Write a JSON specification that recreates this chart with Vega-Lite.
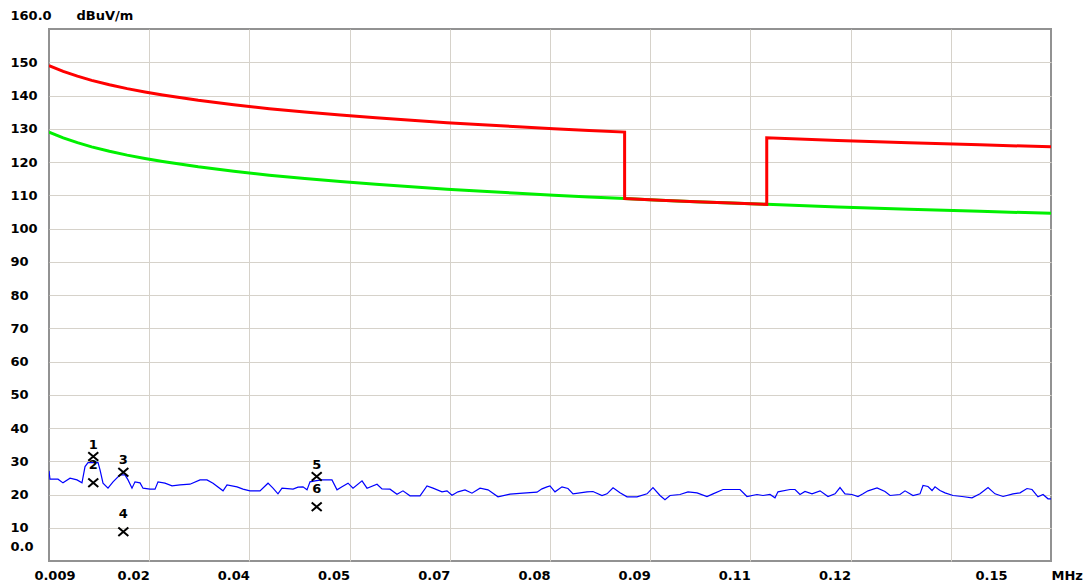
{
  "$schema": "https://vega.github.io/schema/vega-lite/v6.json",
  "width": 1002,
  "height": 532,
  "autosize": {"type": "none"},
  "padding": {"left": 49, "top": 29, "right": 38, "bottom": 26},
  "background": "white",
  "config": {
    "view": {"stroke": "#929292", "strokeWidth": 2},
    "axis": {
      "labelFont": "DejaVu Sans",
      "labelFontWeight": "bold",
      "labelFontSize": 13,
      "labelColor": "#000000",
      "titleFont": "DejaVu Sans",
      "titleFontWeight": "bold",
      "titleFontSize": 13,
      "titleColor": "#000000",
      "gridColor": "#d6d2ca",
      "gridWidth": 1
    }
  },
  "datasets": {
    "limitA": [
      {"i": 0, "f": 0.009, "v": 149.0},
      {"i": 1, "f": 0.011, "v": 147.26},
      {"i": 2, "f": 0.013, "v": 145.81},
      {"i": 3, "f": 0.015, "v": 144.56},
      {"i": 4, "f": 0.0175, "v": 143.22},
      {"i": 5, "f": 0.02, "v": 142.06},
      {"i": 6, "f": 0.0225, "v": 141.04},
      {"i": 7, "f": 0.025, "v": 140.13},
      {"i": 8, "f": 0.03, "v": 138.54},
      {"i": 9, "f": 0.035, "v": 137.2},
      {"i": 10, "f": 0.04, "v": 136.04},
      {"i": 11, "f": 0.045, "v": 135.02},
      {"i": 12, "f": 0.05, "v": 134.11},
      {"i": 13, "f": 0.055, "v": 133.28},
      {"i": 14, "f": 0.06, "v": 132.52},
      {"i": 15, "f": 0.065, "v": 131.83},
      {"i": 16, "f": 0.07, "v": 131.18},
      {"i": 17, "f": 0.075, "v": 130.58},
      {"i": 18, "f": 0.08, "v": 130.02},
      {"i": 19, "f": 0.085, "v": 129.5},
      {"i": 20, "f": 0.09, "v": 129.0},
      {"i": 21, "f": 0.09, "v": 109.0},
      {"i": 22, "f": 0.095, "v": 108.53},
      {"i": 23, "f": 0.1, "v": 108.08},
      {"i": 24, "f": 0.105, "v": 107.66},
      {"i": 25, "f": 0.11, "v": 107.26},
      {"i": 26, "f": 0.11, "v": 127.26},
      {"i": 27, "f": 0.12, "v": 126.5},
      {"i": 28, "f": 0.13, "v": 125.81},
      {"i": 29, "f": 0.14, "v": 125.16},
      {"i": 30, "f": 0.15, "v": 124.56}
    ],
    "limitB": [
      {"f": 0.009, "v": 129.0},
      {"f": 0.011, "v": 127.26},
      {"f": 0.013, "v": 125.81},
      {"f": 0.015, "v": 124.56},
      {"f": 0.0175, "v": 123.22},
      {"f": 0.02, "v": 122.06},
      {"f": 0.0225, "v": 121.04},
      {"f": 0.025, "v": 120.13},
      {"f": 0.03, "v": 118.54},
      {"f": 0.035, "v": 117.2},
      {"f": 0.04, "v": 116.04},
      {"f": 0.045, "v": 115.02},
      {"f": 0.05, "v": 114.11},
      {"f": 0.055, "v": 113.28},
      {"f": 0.06, "v": 112.52},
      {"f": 0.065, "v": 111.83},
      {"f": 0.07, "v": 111.18},
      {"f": 0.075, "v": 110.58},
      {"f": 0.08, "v": 110.02},
      {"f": 0.085, "v": 109.5},
      {"f": 0.09, "v": 109.0},
      {"f": 0.095, "v": 108.53},
      {"f": 0.1, "v": 108.08},
      {"f": 0.105, "v": 107.66},
      {"f": 0.11, "v": 107.26},
      {"f": 0.12, "v": 106.5},
      {"f": 0.13, "v": 105.81},
      {"f": 0.14, "v": 105.16},
      {"f": 0.15, "v": 104.56}
    ],
    "trace": [
      {"f": 0.00900, "v": 27.1}, {"f": 0.00914, "v": 24.6}, {"f": 0.01027, "v": 24.6}, {"f": 0.01097, "v": 23.5},
      {"f": 0.01196, "v": 24.9}, {"f": 0.01294, "v": 24.4}, {"f": 0.01364, "v": 23.5}, {"f": 0.01407, "v": 28.4},
      {"f": 0.01449, "v": 29.6}, {"f": 0.01590, "v": 29.6}, {"f": 0.01618, "v": 27.4}, {"f": 0.01660, "v": 23.4},
      {"f": 0.01730, "v": 21.9}, {"f": 0.01801, "v": 23.8}, {"f": 0.01899, "v": 25.9}, {"f": 0.01969, "v": 25.9},
      {"f": 0.02012, "v": 24.4}, {"f": 0.02068, "v": 21.9}, {"f": 0.02110, "v": 23.8}, {"f": 0.02181, "v": 23.5},
      {"f": 0.02223, "v": 21.9}, {"f": 0.02321, "v": 21.6}, {"f": 0.02392, "v": 21.6}, {"f": 0.02434, "v": 23.8},
      {"f": 0.02532, "v": 23.4}, {"f": 0.02631, "v": 22.6}, {"f": 0.02743, "v": 22.9}, {"f": 0.02884, "v": 23.1},
      {"f": 0.03025, "v": 24.4}, {"f": 0.03123, "v": 24.4}, {"f": 0.03208, "v": 23.4}, {"f": 0.03349, "v": 21.1},
      {"f": 0.03405, "v": 22.9}, {"f": 0.03546, "v": 22.3}, {"f": 0.03630, "v": 21.6}, {"f": 0.03728, "v": 21.1},
      {"f": 0.03869, "v": 21.1}, {"f": 0.03982, "v": 23.4}, {"f": 0.04052, "v": 21.9}, {"f": 0.04122, "v": 20.2},
      {"f": 0.04179, "v": 21.9}, {"f": 0.04334, "v": 21.6}, {"f": 0.04404, "v": 22.2}, {"f": 0.04474, "v": 22.3},
      {"f": 0.04531, "v": 21.4}, {"f": 0.04573, "v": 23.8}, {"f": 0.04643, "v": 24.1}, {"f": 0.04742, "v": 24.4},
      {"f": 0.04882, "v": 24.4}, {"f": 0.04953, "v": 21.4}, {"f": 0.05023, "v": 22.3}, {"f": 0.05108, "v": 23.4},
      {"f": 0.05178, "v": 21.9}, {"f": 0.05305, "v": 24.1}, {"f": 0.05375, "v": 21.9}, {"f": 0.05516, "v": 23.1},
      {"f": 0.05586, "v": 21.7}, {"f": 0.05699, "v": 21.6}, {"f": 0.05797, "v": 20.1}, {"f": 0.05881, "v": 21.1},
      {"f": 0.05980, "v": 19.6}, {"f": 0.06121, "v": 19.6}, {"f": 0.06219, "v": 22.6}, {"f": 0.06304, "v": 21.9},
      {"f": 0.06430, "v": 20.8}, {"f": 0.06501, "v": 21.1}, {"f": 0.06571, "v": 19.8}, {"f": 0.06655, "v": 20.8},
      {"f": 0.06754, "v": 21.4}, {"f": 0.06852, "v": 20.4}, {"f": 0.06965, "v": 21.9}, {"f": 0.07078, "v": 21.4},
      {"f": 0.07218, "v": 19.3}, {"f": 0.07387, "v": 20.1}, {"f": 0.07570, "v": 20.4}, {"f": 0.07767, "v": 20.7},
      {"f": 0.07837, "v": 21.7}, {"f": 0.07908, "v": 22.3}, {"f": 0.07950, "v": 22.6}, {"f": 0.08020, "v": 20.8},
      {"f": 0.08119, "v": 22.3}, {"f": 0.08203, "v": 21.8}, {"f": 0.08274, "v": 20.2}, {"f": 0.08471, "v": 20.8},
      {"f": 0.08555, "v": 20.9}, {"f": 0.08682, "v": 19.7}, {"f": 0.08752, "v": 20.2}, {"f": 0.08837, "v": 22.0},
      {"f": 0.08935, "v": 20.5}, {"f": 0.09034, "v": 19.3}, {"f": 0.09174, "v": 19.3}, {"f": 0.09315, "v": 20.2},
      {"f": 0.09399, "v": 22.1}, {"f": 0.09498, "v": 19.7}, {"f": 0.09568, "v": 18.4}, {"f": 0.09639, "v": 19.7},
      {"f": 0.09779, "v": 20.0}, {"f": 0.09892, "v": 20.8}, {"f": 0.10019, "v": 20.5}, {"f": 0.10159, "v": 19.4},
      {"f": 0.10244, "v": 20.2}, {"f": 0.10385, "v": 21.5}, {"f": 0.10525, "v": 21.5}, {"f": 0.10624, "v": 21.5},
      {"f": 0.10722, "v": 19.4}, {"f": 0.10863, "v": 20.0}, {"f": 0.10947, "v": 19.7}, {"f": 0.11046, "v": 20.0},
      {"f": 0.11116, "v": 19.0}, {"f": 0.11158, "v": 20.8}, {"f": 0.11327, "v": 21.5}, {"f": 0.11398, "v": 21.5},
      {"f": 0.11468, "v": 20.0}, {"f": 0.11538, "v": 20.9}, {"f": 0.11637, "v": 20.2}, {"f": 0.11750, "v": 21.1},
      {"f": 0.11862, "v": 19.4}, {"f": 0.11961, "v": 20.2}, {"f": 0.12031, "v": 22.1}, {"f": 0.12101, "v": 20.2},
      {"f": 0.12200, "v": 20.0}, {"f": 0.12284, "v": 19.4}, {"f": 0.12355, "v": 20.2}, {"f": 0.12425, "v": 21.1},
      {"f": 0.12552, "v": 22.0}, {"f": 0.12664, "v": 20.9}, {"f": 0.12735, "v": 19.7}, {"f": 0.12875, "v": 20.0},
      {"f": 0.12946, "v": 21.1}, {"f": 0.13058, "v": 19.7}, {"f": 0.13157, "v": 20.2}, {"f": 0.13199, "v": 22.7},
      {"f": 0.13269, "v": 22.4}, {"f": 0.13326, "v": 21.2}, {"f": 0.13368, "v": 22.3}, {"f": 0.13438, "v": 21.2},
      {"f": 0.13509, "v": 20.5}, {"f": 0.13621, "v": 19.7}, {"f": 0.13748, "v": 19.4}, {"f": 0.13888, "v": 19.0},
      {"f": 0.14001, "v": 20.2}, {"f": 0.14114, "v": 22.1}, {"f": 0.14212, "v": 20.2}, {"f": 0.14325, "v": 19.4},
      {"f": 0.14465, "v": 20.2}, {"f": 0.14564, "v": 20.5}, {"f": 0.14662, "v": 21.8}, {"f": 0.14733, "v": 21.5},
      {"f": 0.14817, "v": 19.3}, {"f": 0.14888, "v": 20.0}, {"f": 0.14958, "v": 18.7}, {"f": 0.15000, "v": 18.7}
    ],
    "markers": [
      {"n": 1, "f": 0.01523, "v": 31.4},
      {"n": 2, "f": 0.01523, "v": 23.5},
      {"n": 3, "f": 0.01946, "v": 26.7},
      {"n": 4, "f": 0.01946, "v": 8.8},
      {"n": 5, "f": 0.04667, "v": 25.4},
      {"n": 6, "f": 0.04667, "v": 16.3}
    ]
  },
  "encoding": {
    "x": {
      "field": "f",
      "type": "quantitative",
      "scale": {"domain": [0.009, 0.15], "nice": false, "zero": false},
      "axis": {
        "values": [0.009, 0.0231, 0.0372, 0.0513, 0.0654, 0.0795, 0.0936, 0.1077, 0.1218, 0.1359, 0.15],
        "labelExpr": "datum.value < 0.01 ? '0.009' : (datum.value > 0.13 && datum.value < 0.14) ? '' : format(datum.value, '.2f')",
        "labelAlign": "right",
        "labelBaseline": "middle",
        "labelPadding": 14,
        "labelOffset": {"condition": [{"test": "datum.value < 0.01", "value": 26}, {"test": "datum.value > 0.149", "value": -44}], "value": 0},
        "labelFlush": false,
        "labelOverlap": false,
        "labelBound": false,
        "ticks": false,
        "tickSize": 0,
        "domain": false,
        "grid": true,
        "gridOpacity": {"condition": {"test": "datum.value < 0.01 || datum.value > 0.149", "value": 0}, "value": 1},
        "title": "MHz",
        "titleX": 1002,
        "titleY": 14,
        "titleAlign": "left",
        "titleBaseline": "middle",
        "titleAngle": 0
      }
    },
    "y": {
      "field": "v",
      "type": "quantitative",
      "scale": {"domain": [0, 160], "nice": false, "zero": false},
      "axis": {
        "values": [0, 10, 20, 30, 40, 50, 60, 70, 80, 90, 100, 110, 120, 130, 140, 150, 160],
        "labelExpr": "datum.value == 0 || datum.value == 160 ? format(datum.value, '.1f') : datum.label",
        "labelAlign": "left",
        "labelBaseline": "middle",
        "labelPadding": 39,
        "labelOffset": {"condition": [{"test": "datum.value == 0", "value": -15}, {"test": "datum.value == 160", "value": -14}], "value": 0},
        "labelFlush": false,
        "labelOverlap": false,
        "labelBound": false,
        "ticks": false,
        "tickSize": 0,
        "domain": false,
        "grid": true,
        "gridOpacity": {"condition": {"test": "datum.value == 0 || datum.value == 160", "value": 0}, "value": 1},
        "title": "dBuV/m",
        "titleAngle": 0,
        "titleX": 27,
        "titleY": -14,
        "titleAlign": "left",
        "titleBaseline": "middle"
      }
    }
  },
  "layer": [
    {
      "data": {"name": "limitB"},
      "mark": {"type": "line", "color": "#00f000", "strokeWidth": 3, "clip": true}
    },
    {
      "data": {"name": "limitA"},
      "mark": {"type": "line", "color": "#ff0000", "strokeWidth": 3, "clip": true},
      "encoding": {"order": {"field": "i", "type": "quantitative"}}
    },
    {
      "data": {"name": "trace"},
      "mark": {"type": "line", "color": "#0000ff", "strokeWidth": 1.2, "clip": true}
    },
    {
      "data": {"name": "markers"},
      "mark": {"type": "point", "shape": "M-1,-0.85L1,0.85M1,-0.85L-1,0.85", "size": 100, "filled": false, "stroke": "#000000", "strokeWidth": 2, "opacity": 1}
    },
    {
      "data": {"name": "markers"},
      "transform": [{"filter": "datum.n % 2 == 1"}],
      "mark": {"type": "text", "font": "DejaVu Sans", "fontWeight": "bold", "fontSize": 13, "color": "#000000", "dy": -12, "baseline": "middle"},
      "encoding": {"text": {"field": "n", "type": "nominal"}}
    },
    {
      "data": {"name": "markers"},
      "transform": [{"filter": "datum.n % 2 == 0"}],
      "mark": {"type": "text", "font": "DejaVu Sans", "fontWeight": "bold", "fontSize": 13, "color": "#000000", "dy": -18, "baseline": "middle"},
      "encoding": {"text": {"field": "n", "type": "nominal"}}
    }
  ]
}
